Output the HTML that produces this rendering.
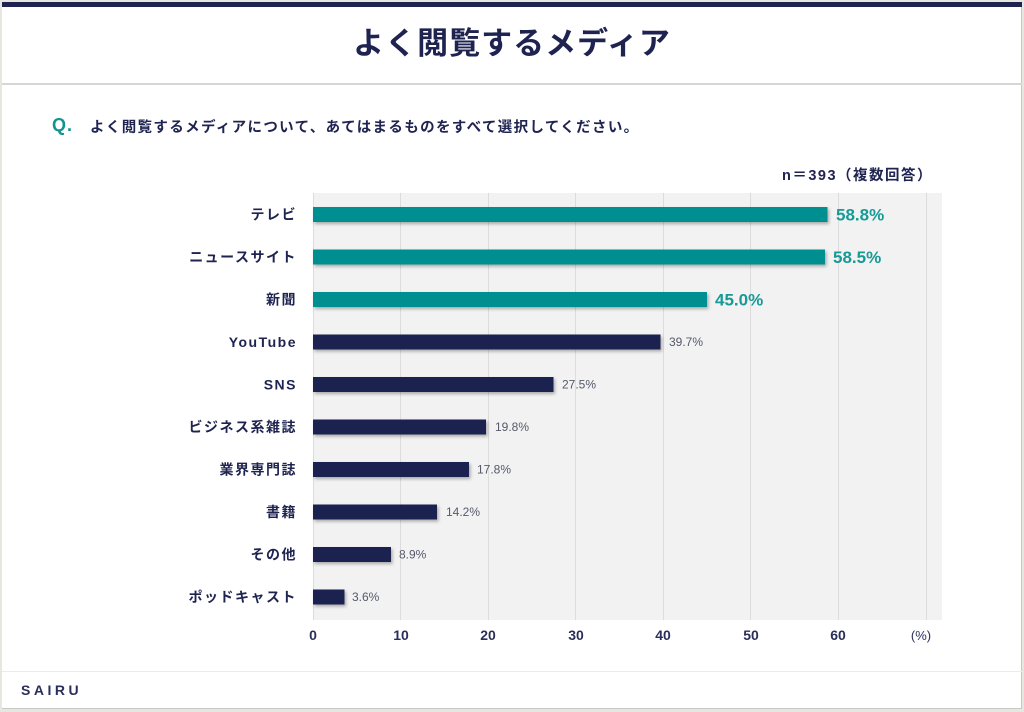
<!DOCTYPE html>
<html><head><meta charset="utf-8">
<style>
html,body{margin:0;padding:0;}
body{width:1024px;height:712px;background:#e6e8e0;position:relative;overflow:hidden;font-family:"Liberation Sans","Noto Sans CJK JP",sans-serif;}
.card{position:absolute;left:2px;top:2px;width:1019px;height:706px;background:#fff;border-right:1px solid #c8c8c8;border-bottom:1px solid #c8c8c8;}
.band{position:absolute;left:2px;top:2px;width:1020px;height:5px;background:#1e2350;}
.hline{position:absolute;left:2px;width:1020px;height:2px;background:#d6d6d6;top:83px;}
.fline{position:absolute;left:2px;width:1020px;height:1px;background:#ececec;top:671px;}
.title{position:absolute;left:0;width:1024px;top:24px;text-align:center;font-size:31px;font-weight:bold;color:#1e2350;letter-spacing:1px;line-height:40px;}
.q{position:absolute;left:52px;top:114px;font-size:18px;font-weight:bold;color:#10948f;line-height:22px;letter-spacing:1px;}
.qt{position:absolute;left:90px;top:116px;font-size:14.5px;font-weight:bold;color:#1e2350;letter-spacing:1.35px;white-space:nowrap;}
.n{position:absolute;left:782px;top:164px;font-size:14.5px;font-weight:bold;color:#1e2350;white-space:nowrap;letter-spacing:1.5px;}
.sairu{position:absolute;left:21px;top:682px;font-size:14px;font-weight:bold;color:#2a2f5a;letter-spacing:3.5px;}
svg{position:absolute;left:0;top:0;}
</style></head><body>
<div class="card"></div>
<div class="band"></div>
<div class="title">よく閲覧するメディア</div>
<div class="hline"></div>
<div class="q">Q.</div>
<div class="qt">よく閲覧するメディアについて、あてはまるものをすべて選択してください。</div>
<div class="n">n＝393（複数回答）</div>
<svg width="1024" height="712" xmlns="http://www.w3.org/2000/svg">
<defs>
<filter id="sh" x="-5%" y="-50%" width="110%" height="220%">
<feDropShadow dx="1.5" dy="2" stdDeviation="1.5" flood-color="#000" flood-opacity="0.3"/>
</filter>
</defs>
<rect x="313" y="193" width="629" height="427" fill="#f2f2f2"/>
<g stroke="#dcdcdc" stroke-width="1">
<line x1="313.5" y1="193" x2="313.5" y2="620"/>
<line x1="400.5" y1="193" x2="400.5" y2="620"/>
<line x1="488.5" y1="193" x2="488.5" y2="620"/>
<line x1="575.5" y1="193" x2="575.5" y2="620"/>
<line x1="663.5" y1="193" x2="663.5" y2="620"/>
<line x1="750.5" y1="193" x2="750.5" y2="620"/>
<line x1="838.5" y1="193" x2="838.5" y2="620"/>
<line x1="926.5" y1="193" x2="926.5" y2="620"/>
</g>
<g font-family="Liberation Sans, Noto Sans CJK JP, sans-serif" font-weight="bold" font-size="14" fill="#1e2350" text-anchor="end" letter-spacing="1.5">
<text x="297" y="219.5">テレビ</text>
<text x="297" y="262">ニュースサイト</text>
<text x="297" y="304.5">新聞</text>
<text x="297" y="347">YouTube</text>
<text x="297" y="389.5">SNS</text>
<text x="297" y="432">ビジネス系雑誌</text>
<text x="297" y="474.5">業界専門誌</text>
<text x="297" y="517">書籍</text>
<text x="297" y="559.5">その他</text>
<text x="297" y="602">ポッドキャスト</text>
</g>
<g filter="url(#sh)">
<rect x="313" y="207" width="514.5" height="15" fill="#008f91"/>
<rect x="313" y="249.5" width="512" height="15" fill="#008f91"/>
<rect x="313" y="292" width="394" height="15" fill="#008f91"/>
<rect x="313" y="334.5" width="347.5" height="15" fill="#1e2350"/>
<rect x="313" y="377" width="240.5" height="15" fill="#1e2350"/>
<rect x="313" y="419.5" width="173" height="15" fill="#1e2350"/>
<rect x="313" y="462" width="156" height="15" fill="#1e2350"/>
<rect x="313" y="504.5" width="124" height="15" fill="#1e2350"/>
<rect x="313" y="547" width="78" height="15" fill="#1e2350"/>
<rect x="313" y="589.5" width="31.5" height="15" fill="#1e2350"/>
</g>
<g font-family="Liberation Sans, sans-serif" font-weight="bold" font-size="17" fill="#169a96">
<text x="836" y="220.5">58.8%</text>
<text x="833" y="263">58.5%</text>
<text x="715" y="305.5">45.0%</text>
</g>
<g font-family="Liberation Sans, sans-serif" font-size="12" fill="#555a6a">
<text x="669" y="346">39.7%</text>
<text x="562" y="388.5">27.5%</text>
<text x="495" y="431">19.8%</text>
<text x="477" y="473.5">17.8%</text>
<text x="446" y="516">14.2%</text>
<text x="399" y="558.5">8.9%</text>
<text x="352" y="601">3.6%</text>
</g>
<g font-family="Liberation Sans, sans-serif" font-weight="bold" font-size="14" fill="#2a2f5a" text-anchor="middle">
<text x="313" y="640">0</text>
<text x="401" y="640">10</text>
<text x="488" y="640">20</text>
<text x="576" y="640">30</text>
<text x="663" y="640">40</text>
<text x="751" y="640">50</text>
<text x="838" y="640">60</text>
<text x="921" y="640" font-weight="normal" font-size="13">(%)</text>
</g>
</svg>
<div class="fline"></div>
<div class="sairu">SAIRU</div>
</body></html>
